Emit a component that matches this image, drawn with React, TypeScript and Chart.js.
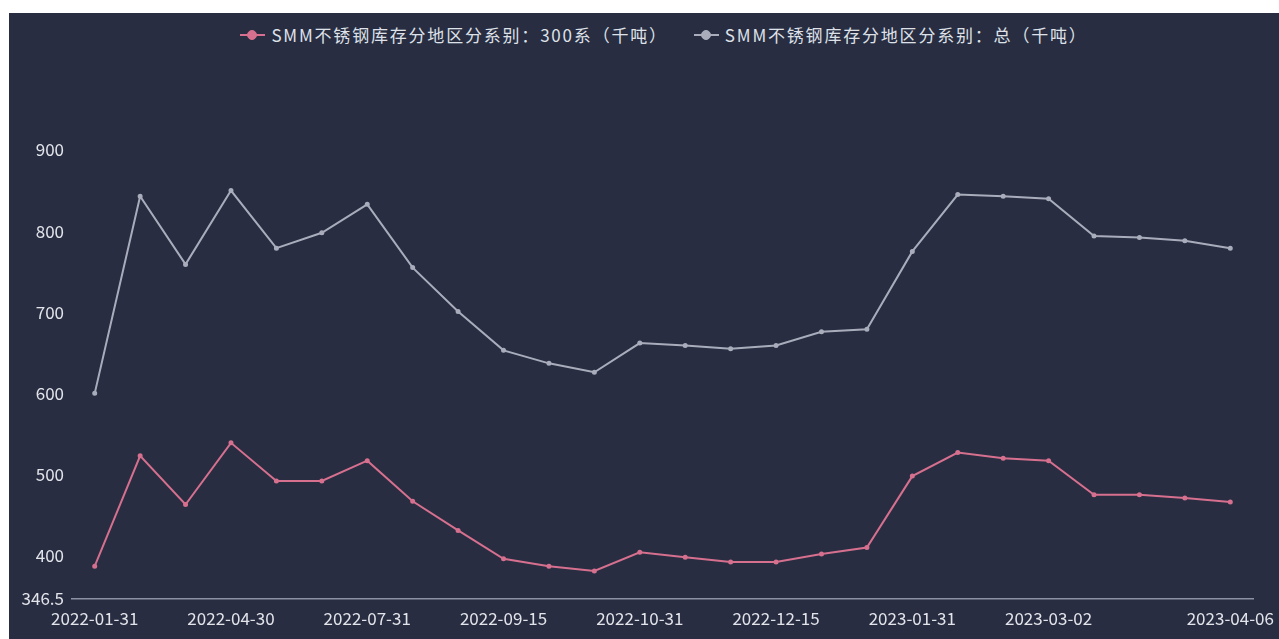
import React, { useEffect, useRef } from "react";
import { Chart, registerables } from "chart.js";

Chart.register(...registerables);

const categories = [
  "2022-01-31", "2022-02-28", "2022-03-31", "2022-04-30", "2022-05-31", "2022-06-30",
  "2022-07-31", "2022-08-15", "2022-08-31", "2022-09-15", "2022-09-30", "2022-10-15",
  "2022-10-31", "2022-11-15", "2022-11-30", "2022-12-15", "2022-12-31", "2023-01-15",
  "2023-01-31", "2023-02-16", "2023-02-23", "2023-03-02", "2023-03-09", "2023-03-16",
  "2023-03-23", "2023-04-06",
];

const series300 = [
  387, 523, 463, 539, 492, 492, 517, 467, 431, 396, 387, 381,
  404, 398, 392, 392, 402, 410, 498, 527, 520, 517, 475, 475, 471, 466,
];

const seriesTotal = [
  600, 843, 759, 850, 779, 798, 833, 755, 701, 653, 637, 626,
  662, 659, 655, 659, 676, 679, 775, 845, 843, 840, 794, 792, 788, 779,
];

const xTickLabels = [
  "2022-01-31", "2022-04-30", "2022-07-31", "2022-09-15", "2022-10-31",
  "2022-12-15", "2023-01-31", "2023-03-02", "2023-04-06",
];

const yTickValues = [346.5, 400, 500, 600, 700, 800, 900];

const legendNames = [
  "SMM不锈钢库存分地区分系别：300系（千吨）",
  "SMM不锈钢库存分地区分系别：总（千吨）",
];

const RED = "#d6708e";
const GRAY = "#a9adbb";
const BG = "#282d42";
const FONT = "'Noto Sans CJK SC', 'Noto Sans', sans-serif";

function LegendIcon({ color }: { color: string }) {
  return (
    <span style={{ position: "relative", display: "inline-block", width: 25, height: 14, marginRight: 6 }}>
      <span style={{ position: "absolute", left: 0, right: 0, top: 6, height: 2, background: color }} />
      <span
        style={{
          position: "absolute", left: 7, top: 2, width: 8, height: 8, borderRadius: "50%",
          background: color, border: `1px solid ${color}`,
        }}
      />
    </span>
  );
}

export default function App() {
  const ref = useRef<HTMLCanvasElement | null>(null);

  useEffect(() => {
    document.body.style.overflow = "hidden";
    if (!ref.current) return;
    const chart = new Chart(ref.current, {
      type: "line",
      data: {
        labels: categories,
        datasets: [
          {
            label: legendNames[0],
            data: series300,
            borderColor: RED,
            backgroundColor: RED,
            borderWidth: 2,
            pointRadius: 1.5,
            pointHoverRadius: 2,
            tension: 0,
          },
          {
            label: legendNames[1],
            data: seriesTotal,
            borderColor: GRAY,
            backgroundColor: GRAY,
            borderWidth: 2,
            pointRadius: 1.5,
            pointHoverRadius: 2,
            tension: 0,
          },
        ],
      },
      options: {
        animation: false,
        responsive: true,
        maintainAspectRatio: false,
        layout: { padding: { top: 137, right: 26, left: 0, bottom: 0 } },
        plugins: { legend: { display: false }, tooltip: { enabled: false } },
        scales: {
          x: {
            type: "category",
            offset: true,
            grid: { display: false, drawTicks: false },
            border: { display: true, color: "#8d92a3", width: 1.5 },
            ticks: {
              autoSkip: false,
              maxRotation: 0,
              minRotation: 0,
              padding: 9,
              color: "#e2e4ea",
              font: { family: FONT, size: 17 },
              callback: function (this: any, value: any) {
                const lab = this.getLabelForValue(value);
                return xTickLabels.includes(lab) ? lab : "";
              },
            },
            afterFit: (s: any) => {
              s.height = 40;
              s.paddingRight = 0;
              s.paddingLeft = 0;
            },
          },
          y: {
            min: 346.5,
            max: 900,
            grid: { display: false, drawTicks: false },
            border: { display: false },
            afterBuildTicks: (s: any) => {
              s.ticks = yTickValues.map((v) => ({ value: v }));
            },
            ticks: {
              padding: 8,
              color: "#e2e4ea",
              font: { family: FONT, size: 17 },
              callback: (v: any) => String(v),
            },
            afterFit: (s: any) => {
              s.width = 63;
            },
          },
        },
      },
    });
    return () => chart.destroy();
  }, []);

  return (
    <div
      style={{
        position: "fixed", left: 9, top: 13, right: 0, bottom: 0, background: BG, fontFamily: FONT,
      }}
    >
      <div
        style={{
          position: "absolute", top: 9, left: 0, right: 0, display: "flex", justifyContent: "center",
          alignItems: "center", paddingLeft: 40, color: "#dfe1e8", fontSize: 17, letterSpacing: 1.8,
          whiteSpace: "nowrap",
        }}
      >
        <span style={{ display: "inline-flex", alignItems: "center", marginRight: 26 }}>
          <LegendIcon color={RED} />
          {legendNames[0]}
        </span>
        <span style={{ display: "inline-flex", alignItems: "center" }}>
          <LegendIcon color={GRAY} />
          {legendNames[1]}
        </span>
      </div>
      <div style={{ position: "absolute", left: 0, top: 0, right: 0, bottom: 0 }}>
        <canvas ref={ref} />
      </div>
    </div>
  );
}
